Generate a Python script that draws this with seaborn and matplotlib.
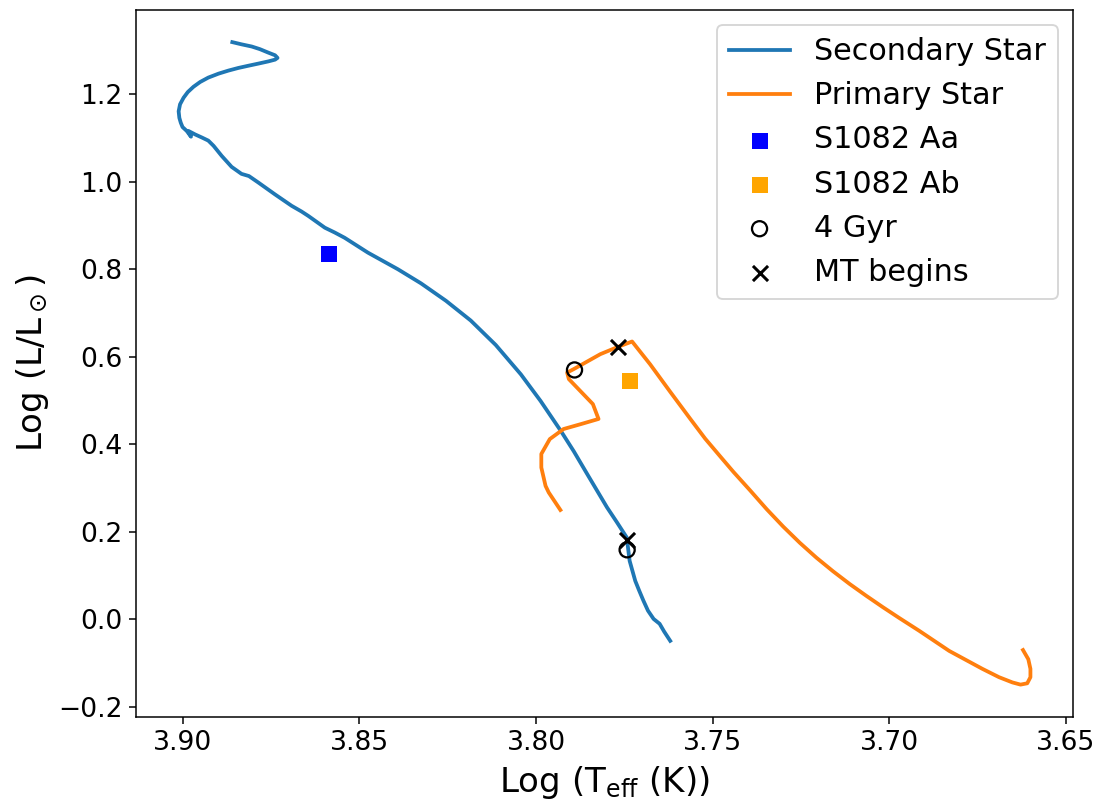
import matplotlib
matplotlib.use('Agg')
import matplotlib.pyplot as plt
import seaborn as sns

# Secondary star evolutionary track (log Teff, log L)
sec_logT = [3.8860, 3.8834, 3.8805, 3.8782, 3.8758, 3.8739, 3.8732, 3.8739, 3.8758,
            3.8786, 3.8815, 3.8843, 3.8871, 3.8899, 3.8928, 3.8951, 3.8970, 3.8986,
            3.8998, 3.9008, 3.9012, 3.9010, 3.9006, 3.9001, 3.8989, 3.8977, 3.8984,
            3.8965, 3.8946, 3.8928, 3.8913, 3.8890, 3.8862, 3.8834, 3.8813, 3.8786,
            3.8739, 3.8692, 3.8664, 3.8645, 3.8598, 3.8570, 3.8542, 3.8476, 3.8391,
            3.8326, 3.8255, 3.8185, 3.8114, 3.8043, 3.7987, 3.7930, 3.7893, 3.7855,
            3.7827, 3.7799, 3.7771, 3.7743, 3.7735, 3.7727, 3.7719, 3.7708, 3.7696,
            3.7683, 3.7667, 3.7650, 3.7637, 3.7620]
sec_logL = [1.319, 1.314, 1.309, 1.303, 1.295, 1.289, 1.283, 1.279, 1.275,
            1.270, 1.265, 1.260, 1.254, 1.247, 1.238, 1.228, 1.217, 1.205,
            1.192, 1.177, 1.161, 1.146, 1.135, 1.125, 1.116, 1.103, 1.116,
            1.108, 1.101, 1.094, 1.082, 1.059, 1.034, 1.018, 1.013, 0.998,
            0.971, 0.945, 0.932, 0.922, 0.895, 0.884, 0.872, 0.838, 0.800,
            0.768, 0.728, 0.683, 0.627, 0.560, 0.499, 0.431, 0.384, 0.332,
            0.294, 0.256, 0.222, 0.187, 0.134, 0.111, 0.088, 0.066, 0.043,
            0.020, 0.001, -0.010, -0.028, -0.049]

# Primary star evolutionary track
pri_logT = [3.7931, 3.7964, 3.7973, 3.7985, 3.7985, 3.7961, 3.7922, 3.7874, 3.7823,
            3.7839, 3.7907, 3.7912, 3.7893, 3.7818, 3.7767, 3.7728, 3.7677, 3.7620,
            3.7563, 3.7521, 3.7478, 3.7441, 3.7394, 3.7347, 3.7300, 3.7253, 3.7206,
            3.7159, 3.7112, 3.7065, 3.7018, 3.6971, 3.6915, 3.6830, 3.6736, 3.6689,
            3.6651, 3.6628, 3.6609, 3.6600, 3.6600, 3.6606, 3.6621]
pri_logL = [0.250, 0.290, 0.305, 0.347, 0.378, 0.412, 0.435, 0.446, 0.458,
            0.492, 0.549, 0.564, 0.572, 0.606, 0.623, 0.635, 0.583, 0.520,
            0.458, 0.413, 0.372, 0.337, 0.295, 0.252, 0.212, 0.175, 0.141,
            0.110, 0.081, 0.054, 0.028, 0.003, -0.026, -0.072, -0.113, -0.132,
            -0.144, -0.149, -0.146, -0.132, -0.113, -0.091, -0.070]

# Observed components
aa_logT, aa_logL = [3.8585], [0.835]
ab_logT, ab_logL = [3.7733], [0.545]

# Markers on the tracks
gyr4_logT = [3.7891, 3.7742]
gyr4_logL = [0.570, 0.159]
mt_logT = [3.7767, 3.7742]
mt_logL = [0.623, 0.182]

plt.rcParams['xtick.labelsize'] = 14
plt.rcParams['ytick.labelsize'] = 14

fig, ax = plt.subplots(figsize=(1107 / 136, 801 / 136), dpi=136)
fig.subplots_adjust(left=0.1229, right=0.9693, bottom=0.1052, top=0.9875)

sns.lineplot(x=sec_logT, y=sec_logL, sort=False, estimator=None, color='#1f77b4',
             linewidth=2, label='Secondary Star', ax=ax)
sns.lineplot(x=pri_logT, y=pri_logL, sort=False, estimator=None, color='#ff7f0e',
             linewidth=2, label='Primary Star', ax=ax)
sns.scatterplot(x=aa_logT, y=aa_logL, marker='s', color='blue', s=64, linewidth=0,
                label='S1082 Aa', ax=ax)
sns.scatterplot(x=ab_logT, y=ab_logL, marker='s', color='orange', s=64, linewidth=0,
                label='S1082 Ab', ax=ax)
sns.scatterplot(x=gyr4_logT, y=gyr4_logL, marker='o', s=64, facecolor='none',
                edgecolor='black', linewidth=1.2, label='4 Gyr', ax=ax, zorder=3)
sns.scatterplot(x=mt_logT, y=mt_logL, marker='x', s=64, color='black',
                linewidth=1.6, label='MT begins', ax=ax, zorder=3)

ax.invert_xaxis()
ax.set_xticks([3.90, 3.85, 3.80, 3.75, 3.70, 3.65])
ax.set_xlabel(r'Log (T$_{\rm eff}$ (K))', fontsize=18)
ax.set_ylabel(r'Log (L/L$_\odot$)', fontsize=18)
ax.legend(loc='upper right', fontsize=16)

plt.savefig('out.png', dpi=136)
